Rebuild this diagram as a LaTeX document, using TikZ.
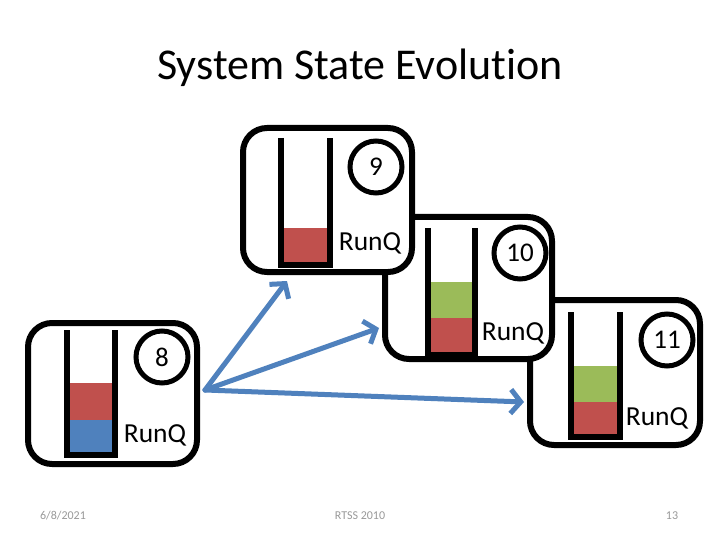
\documentclass[tikz,border=0pt]{standalone}
\usepackage{fontspec}
\setmainfont[Ligatures=NoCommon]{Carlito}
\usetikzlibrary{arrows.meta,calc}
\definecolor{qred}{HTML}{C0504D}
\definecolor{qgreen}{HTML}{9BBB59}
\definecolor{qblue}{HTML}{4F81BD}
\begin{document}
\begin{tikzpicture}[x=1pt,y=-1pt,
  box/.style={draw=black,fill=white,line width=6pt,rounded corners=24pt,inner sep=0pt},
  tubeline/.style={draw=black,line width=6.5pt},
  numc/.style={draw=black,circle,line width=5pt,minimum size=52pt,inner sep=0pt,font=\fontsize{27}{30}\selectfont},
  rq/.style={font=\fontsize{27.5}{30}\selectfont,inner sep=0pt},
  flow/.style={draw=qblue,line width=5pt,-{Straight Barb[length=10pt,width=24pt,line width=5pt]}},
  foot/.style={font=\fontsize{12}{14}\selectfont,text=gray!80}]
\useasboundingbox[fill=white] (0,0) rectangle (720,540);
\node[font=\fontsize{44}{50}\selectfont] (title) at (360,68) {System State Evolution};
% box 11
\node[box,minimum width=170pt,minimum height=145pt] (b11) at (615,372.5) {};
\fill[qgreen] (574,366) rectangle (617,402);
\fill[qred] (574,402) rectangle (617,434);
\draw[tubeline] (571,312) -- (571,437) -- (620,437) -- (620,312);
\node[numc] (c11) at (667,340) {11};
\node[rq] (r11) at (657,418) {RunQ};
% box 10
\node[box,minimum width=167pt,minimum height=142pt] (b10) at (468.5,288) {};
\fill[qgreen] (431,282) rectangle (472,318);
\fill[qred] (431,318) rectangle (472,352);
\draw[tubeline] (428,228) -- (428,355) -- (475,355) -- (475,228);
\node[numc] (c10) at (520,253) {10};
\node[rq] (r10) at (513,333) {RunQ};
% box 9
\node[box,minimum width=169pt,minimum height=144pt] (b9) at (327.5,200) {};
\fill[qred] (284,228) rectangle (327,262);
\draw[tubeline] (281,138) -- (281,265) -- (330,265) -- (330,138);
\node[numc] (c9) at (376,167) {9};
\node[rq] (r9) at (370,243) {RunQ};
% box 8
\node[box,minimum width=169pt,minimum height=141pt] (b8) at (112.5,393.5) {};
\fill[qred] (70,383) rectangle (112,420);
\fill[qblue] (70,420) rectangle (112,452);
\draw[tubeline] (67,330) -- (67,455) -- (115,455) -- (115,330);
\node[numc] (c8) at (162,357) {8};
\node[rq] (r8) at (155,435) {RunQ};
% arrows
\coordinate (src) at ($(b8.east)+(5,-3.5)$);
\coordinate (t9) at ($(b9.south)+(-40.5,6)$);
\coordinate (t10) at ($(b10.west)+(-3,40)$);
\coordinate (t11) at ($(b11.west)+(-3,29.5)$);
\draw[flow,line cap=round] (src) -- (t9);
\draw[flow,line cap=round] (src) -- (t10);
\draw[flow,line cap=round] (src) -- (t11);
% footer
\node[foot] (date) at (63,516) {6/8/2021};
\node[foot] (conf) at (360,516) {RTSS 2010};
\node[foot] (page) at (672,516) {13};
\end{tikzpicture}
\end{document}
